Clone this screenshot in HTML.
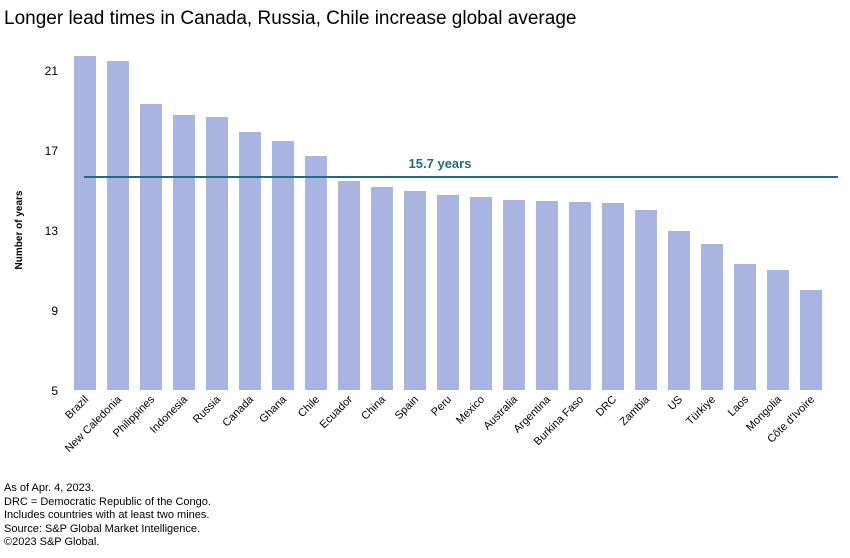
<!DOCTYPE html>
<html><head><meta charset="utf-8"><style>
body{margin:0;background:#fff;font-family:"Liberation Sans",sans-serif;}
#wrap{position:relative;width:850px;height:558px;overflow:hidden;}
.title{position:absolute;left:4px;top:8px;font-size:19px;color:#000;}
.notes{position:absolute;left:4px;top:482px;font-size:11px;line-height:13.5px;color:#000;}
</style></head><body>
<div id="wrap">
<div class="title">Longer lead times in Canada, Russia, Chile increase global average</div>
<svg id="chart" width="850" height="558" style="position:absolute;left:0;top:0"></svg>
<div class="notes">As of Apr. 4, 2023.<br>DRC = Democratic Republic of the Congo.<br>Includes countries with at least two mines.<br>Source: S&amp;P Global Market Intelligence.<br>©2023 S&amp;P Global.</div>
</div>
<script>
const categories=["Brazil","New Caledonia","Philippines","Indonesia","Russia","Canada","Ghana","Chile","Ecuador","China","Spain","Peru","Mexico","Australia","Argentina","Burkina Faso","DRC","Zambia","US","Türkiye","Laos","Mongolia","Côte d'Ivoire"];
const values=[21.7,21.45,19.3,18.75,18.65,17.9,17.45,16.7,15.45,15.15,14.95,14.75,14.65,14.5,14.45,14.4,14.35,14.0,12.95,12.3,11.3,11.0,10.0];
const yTicks=[5,9,13,17,21];
const average=[15.65];
const avgLabel=["15.7 years"];
const NS="http://www.w3.org/2000/svg";
const svg=document.getElementById('chart');
const y0=390, pxPerUnit=20, yMin=5;
function y(v){return y0-(v-yMin)*pxPerUnit;}
const x0=74, step=33, bw=22;
function x(i){return x0+i*step;}
function mk(t,a){const e=document.createElementNS(NS,t);for(const k in a)e.setAttribute(k,a[k]);svg.appendChild(e);return e;}
yTicks.forEach(t=>{
 const e=mk('text',{x:58,y:y(t)+5,'text-anchor':'end','font-size':12,fill:'#000','font-family':'Liberation Sans'});
 e.textContent=t;
 
 
});
const yt=mk('text',{x:0,y:0,'font-size':10,'font-weight':'bold','text-anchor':'middle',transform:'translate(22,230) rotate(-90)','font-family':'Liberation Sans'});
yt.textContent='Number of years';


categories.forEach((c,i)=>{
 const r=mk('rect',{x:x(i),y:y(values[i]),width:bw,height:y0-y(values[i]),fill:'#a9b4e0'});
 
 
 const cx=x(i)+bw/2+4, cy=y0+10;
 const t=mk('text',{x:cx,y:cy,'text-anchor':'end','font-size':11,transform:`rotate(-45 ${cx} ${cy})`,'font-family':'Liberation Sans'});
 t.textContent=c;
 
 
});
const l=mk('line',{x1:84,x2:838,y1:y(average[0]),y2:y(average[0]),stroke:'#1f6a87','stroke-width':2});


const at=mk('text',{x:440,y:y(average[0])-9,'text-anchor':'middle','font-size':13,'font-weight':'bold',fill:'#1f6a87','font-family':'Liberation Sans'});
at.textContent=avgLabel[0];


</script>
</body></html>
